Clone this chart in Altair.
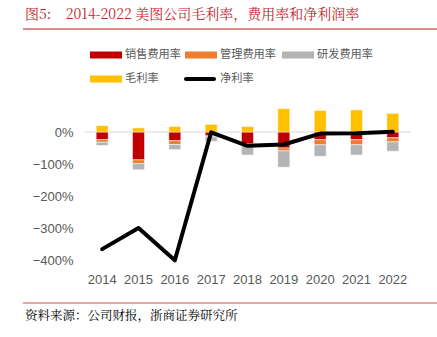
import altair as alt
import pandas as pd

years = ["2014", "2015", "2016", "2017", "2018", "2019", "2020", "2021", "2022"]
gross = [20, 13, 17, 24, 17, 73, 67, 69, 58]
sales = [-24, -87, -27, -12, -37, -50, -24, -24, -18]
admin = [-8, -12, -12, -3, -4, -9, -16, -16, -13]
rnd = [-10, -19, -16, -14, -31, -51, -36, -32, -29]
net = [-366, -300, -401, -1, -43, -39, -5, -4, 1]
y_ticks = [0, -1, -2, -3, -4]

series_names = ["销售费用率", "管理费用率", "研发费用率", "毛利率"]
series_colors = ["#C00000", "#ED7D31", "#B4B4B4", "#FFC000"]
line_name = "净利率"

rows = []
for i, y in enumerate(years):
    for k, (name, vals) in enumerate(zip(series_names, [sales, admin, rnd, gross])):
        rows.append({"year": y, "series": name, "value": vals[i] / 100, "order": k})
bars_df = pd.DataFrame(rows)
net_df = pd.DataFrame({"year": years, "value": [v / 100 for v in net]})

W, H = 327, 160
LEFT, TOP = 84, 100

x_axis = alt.Axis(domain=False, ticks=False, labelAngle=0, labelFontSize=13,
                  labelColor="#595959", labelFont="Liberation Sans", labelPadding=13)
y_axis = alt.Axis(values=y_ticks, format=".0%", grid=False, domain=False,
                  ticks=False, labelFontSize=13, labelColor="#595959",
                  labelFont="Liberation Sans", labelPadding=11, labelOverlap=False)
x_scale = alt.Scale(paddingInner=0.67, paddingOuter=0.335)
y_scale = alt.Scale(domain=[-4, 1])

bars = alt.Chart(bars_df).mark_bar(stroke="white", strokeWidth=0.5).encode(
    x=alt.X("year:N", sort=years, title=None, scale=x_scale, axis=x_axis),
    y=alt.Y("value:Q", stack="zero", scale=y_scale, title=None, axis=y_axis),
    color=alt.Color("series:N", scale=alt.Scale(domain=series_names, range=series_colors),
                    legend=None),
    order=alt.Order("order:Q"),
)

zero = alt.Chart(pd.DataFrame({"v": [0]})).mark_rule(color="#D9D9D9", strokeWidth=1).encode(
    y=alt.Y("v:Q", scale=y_scale, title=None, axis=y_axis)
)

line = alt.Chart(net_df).mark_line(strokeWidth=4, strokeCap="round", strokeJoin="round",
                                   color="#000000").encode(
    x=alt.X("year:N", sort=years, title=None, scale=x_scale, axis=x_axis),
    y=alt.Y("value:Q", scale=y_scale, title=None, axis=y_axis),
)

def text_layer(txt, x, y, color, size, font):
    return alt.Chart(pd.DataFrame({"t": [txt]})).mark_text(
        align="left", baseline="middle", color=color, fontSize=size, font=font
    ).encode(text="t:N", x=alt.value(x), y=alt.value(y))

def rect_layer(x1, x2, y1, y2, color):
    return alt.Chart(pd.DataFrame({"a": [0]})).mark_rect(color=color).encode(
        x=alt.value(x1), x2=alt.value(x2), y=alt.value(y1), y2=alt.value(y2))

def hrule(x1, x2, y, color, w, cap="butt"):
    return alt.Chart(pd.DataFrame({"a": [0]})).mark_rule(color=color, strokeWidth=w, strokeCap=cap).encode(
        x=alt.value(x1 - LEFT), x2=alt.value(x2 - LEFT), y=alt.value(y - TOP)
    )

# legend (layout positions in page pixels)
legend_layers = []
leg_pos = [(90, 55), (185, 55), (282, 55), (90, 79)]
for (lx, ly), name, col in zip(leg_pos, series_names, series_colors):
    legend_layers.append(rect_layer(lx - LEFT, lx + 32 - LEFT, ly - 3.5 - TOP, ly + 3.5 - TOP, col))
    legend_layers.append(text_layer(name, lx + 35 - LEFT, ly - TOP, "#595959", 11.2, "Noto Sans CJK SC"))
legend_layers.append(hrule(186, 214, 79, "#000000", 4, "round"))
legend_layers.append(text_layer(line_name, 220 - LEFT, 79 - TOP, "#595959", 11.2, "Noto Sans CJK SC"))

title_txt = text_layer("图5:\u00a0\u00a0\u00a0 2014-2022 美图公司毛利率，费用率和净利润率", 25 - LEFT, 15 - TOP,
                       "#C0272D", 14, "Noto Serif CJK SC, Noto Sans CJK SC")
foot_txt = text_layer("资料来源：公司财报，浙商证券研究所", 25 - LEFT, 316 - TOP,
                      "#000000", 12.5, "Noto Serif CJK SC, Noto Sans CJK SC")

chart = alt.layer(
    zero, bars, line, title_txt, foot_txt,
    hrule(23, 437, 29, "#E08A8A", 2), hrule(23, 437, 303, "#E08A8A", 1.5),
    *legend_layers
).properties(
    width=W, height=H,
    padding={"left": LEFT, "top": TOP, "right": 437 - LEFT - W, "bottom": 337 - TOP - H},
    autosize=alt.AutoSizeParams(type="none"),
    background="white",
).configure_view(stroke=None)

chart.save("out.html", embed_options={"renderer": "svg", "actions": False})
